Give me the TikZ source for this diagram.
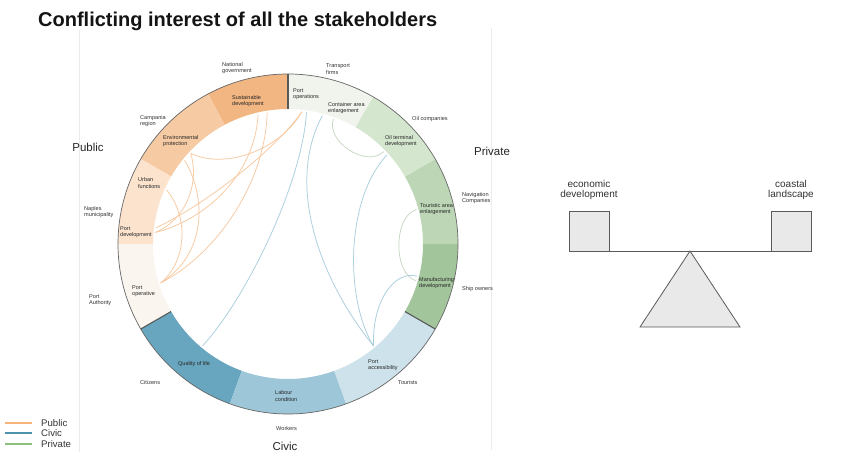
\documentclass[tikz,border=0pt]{standalone}
\usepackage{fontspec}
\setmainfont{Liberation Sans}
\usetikzlibrary{calc}
\definecolor{cNG}{HTML}{F2B682}
\definecolor{cCR}{HTML}{F6CAA2}
\definecolor{cNM}{HTML}{FBE3CE}
\definecolor{cPA}{HTML}{FAF5EE}
\definecolor{cCI}{HTML}{68A5BE}
\definecolor{cWO}{HTML}{9DC7D8}
\definecolor{cTO}{HTML}{CDE2EA}
\definecolor{cSO}{HTML}{A3C59B}
\definecolor{cNC}{HTML}{BCD6B6}
\definecolor{cOC}{HTML}{D5E6CF}
\definecolor{cTF}{HTML}{F0F4ED}
\definecolor{pubch}{HTML}{F7C9A0}
\definecolor{civch}{HTML}{A9CEDC}
\definecolor{prich}{HTML}{C8D8C4}
\definecolor{legpub}{HTML}{F6B37B}
\definecolor{legciv}{HTML}{4E93AE}
\definecolor{legpri}{HTML}{8DC07E}
\definecolor{sawfill}{HTML}{E9E9E9}
\definecolor{sawline}{HTML}{5A5A5A}
\newcommand\ringseg[3]{\fill[#3] (-#1:170) arc[start angle=-#1, end angle=-#2, radius=170] -- (-#2:135) arc[start angle=-#2, end angle=-#1, radius=135] -- cycle;}
\newcommand\chordline[4]{\draw[#4] (#1) .. controls ($(c)!#3!(#1)$) and ($(c)!#3!(#2)$) .. (#2);}
\begin{document}
\begin{tikzpicture}[x=1pt,y=-1pt,
  topic/.style={font=\fontsize{5.5}{6.3}\selectfont, inner sep=0pt, align=left, anchor=west, text=black!85},
  stake/.style={font=\fontsize{5.6}{6.5}\selectfont, inner sep=0pt, align=left, anchor=west, text=black!80},
  grouplabel/.style={font=\fontsize{11.5}{13}\selectfont, inner sep=0pt, text=black!85},
  pubchord/.style={draw=pubch, line width=0.75pt},
  civchord/.style={draw=civch, line width=0.75pt},
  prichord/.style={draw=prich, line width=0.75pt},
  divider/.style={draw=black!65, line width=1.1pt},
  vline/.style={draw=black!8, line width=0.8pt},
  sawbox/.style={draw=sawline, fill=sawfill, line width=0.8pt, minimum width=40pt, minimum height=40pt, inner sep=0pt},
  sawtext/.style={font=\fontsize{10}{10.8}\selectfont, align=center, inner sep=0pt, text=black!80},
  legline/.style={line width=2.4pt},
  legtext/.style={font=\fontsize{9.6}{10}\selectfont, anchor=west, inner sep=0pt, text=black!80}
]
\useasboundingbox[fill=white] (0,0) rectangle (851,455);

% faint separators
\draw[vline] (79,30) -- (79,452);
\draw[vline] (491,28) -- (491,450);

% title
\node[font=\bfseries\fontsize{20}{24}\selectfont, anchor=base west, inner sep=0pt, text=black!92] (title) at (38,27) {Conflicting interest of all the stakeholders};

% ring
\begin{scope}[shift={(288,244)}]
  \coordinate (c) at (0,0);
  \ringseg{90}{118}{cNG}
  \ringseg{118}{150}{cCR}
  \ringseg{150}{180}{cNM}
  \ringseg{180}{210}{cPA}
  \ringseg{210}{250}{cCI}
  \ringseg{250}{290}{cWO}
  \ringseg{290}{330}{cTO}
  \ringseg{330}{360}{cSO}
  \ringseg{0}{30}{cNC}
  \ringseg{30}{60}{cOC}
  \ringseg{60}{90}{cTF}
  \draw[black!60, line width=0.7pt] (0,0) circle[radius=170];
  \draw[divider] (-90:135) -- (-90:170);
  \draw[divider] (-210:135) -- (-210:170);
  \draw[divider] (-330:135) -- (-330:170);

  % chord end points
  \coordinate (popsA) at (-82:133);
  \coordinate (popsB) at (-75:133);
  \coordinate (popsC) at (-84:133);
  \coordinate (sdA) at (-103:133);
  \coordinate (sdB) at (-99:133);
  \coordinate (epA) at (-137:133);
  \coordinate (epB) at (-141:133);
  \coordinate (uf) at (-156:133);
  \coordinate (pdA) at (-175:133);
  \coordinate (pdB) at (-173:133);
  \coordinate (pop) at (-197:133);
  \coordinate (qol) at (-230:133);
  \coordinate (pacc) at (-310:133);
  \coordinate (mfgA) at (-346:133);
  \coordinate (mfgB) at (-344:133);
  \coordinate (tour) at (-15:133);
  \coordinate (oilA) at (-42:133);
  \coordinate (oilB) at (-44:133);
  \coordinate (cont) at (-70:133);

  % private chords
  \chordline{cont}{oilB}{0.82}{prichord}
  \chordline{tour}{mfgB}{0.82}{prichord}
\end{scope}

% public chords
\draw[pubchord] (epA) .. controls (225,170) and (280,150) .. (popsC);
\draw[pubchord] (sdA) .. controls (255,175) and (205,220) .. (pdA);
\draw[pubchord] (sdB) .. controls (265,185) and (215,255) .. (pop);
\draw[pubchord] (epB) .. controls (208,200) and (205,255) .. (pop);
\draw[pubchord] (uf) .. controls (188,215) and (188,260) .. (pop);
\draw[pubchord] (pdB) .. controls (205,205) and (275,150) .. (popsC);
\draw[pubchord] (epA) .. controls (200,185) and (185,220) .. (pdA);
% civic chords
\draw[civchord] (qol) .. controls (245,300) and (302,185) .. (popsA);
\draw[civchord] (pacc) .. controls (320,280) and (285,185) .. (popsB);
\draw[civchord] (pacc) .. controls (345,300) and (345,200) .. (oilA);
\draw[civchord] (pacc) .. controls (372,300) and (395,270) .. (mfgA);

% topics inside the ring
\node[topic] (t1) at (293,94) {Port\\operations};
\node[topic] (t2) at (232,101) {Sustainable\\development};
\node[topic] (t3) at (163,141) {Environmental\\protection};
\node[topic] (t4) at (138,183) {Urban\\functions};
\node[topic] (t5) at (120,232) {Port\\development};
\node[topic] (t6) at (132,291) {Port\\operative};
\node[topic] (t7) at (178,364) {Quality of life};
\node[topic] (t8) at (275,396) {Labour\\condition};
\node[topic] (t9) at (368,365) {Port\\accessibility};
\node[topic] (t10) at (419,283) {Manufacturing\\development};
\node[topic] (t11) at (420,209) {Touristic area\\enlargement};
\node[topic] (t12) at (385,141) {Oil terminal\\development};
\node[topic] (t13) at (328,108) {Container area\\enlargement};

% stakeholders
\node[stake] (s1) at (222,68) {National\\government};
\node[stake] (s2) at (326,69) {Transport\\firms};
\node[stake] (s3) at (140,121) {Campania\\region};
\node[stake] (s4) at (412,119) {Oil companies};
\node[stake] (s5) at (84,212) {Naples\\municipality};
\node[stake] (s6) at (462,198) {Navigation\\Companies};
\node[stake] (s7) at (89,300) {Port\\Authority};
\node[stake] (s8) at (462,289) {Ship owners};
\node[stake] (s9) at (140,382) {Citizens};
\node[stake] (s10) at (276,428) {Workers};
\node[stake] (s11) at (398,382) {Tourists};

% groups
\node[grouplabel] (gpub) at (88,147) {Public};
\node[grouplabel] (gpri) at (492,151) {Private};
\node[grouplabel] (gciv) at (285,446) {Civic};

% legend
\coordinate (l1a) at (5,423); \coordinate (l1b) at (32,423);
\coordinate (l2a) at (5,433); \coordinate (l2b) at (32,433);
\coordinate (l3a) at (5,444); \coordinate (l3b) at (32,444);
\draw[legline, legpub] (l1a) -- (l1b);
\draw[legline, legciv] (l2a) -- (l2b);
\draw[legline, legpri] (l3a) -- (l3b);
\node[legtext] (lt1) at (41,423) {Public};
\node[legtext] (lt2) at (41,433) {Civic};
\node[legtext] (lt3) at (41,444) {Private};

% seesaw
\node[sawbox] (lbox) at (589,231) {};
\node[sawbox] (rbox) at (791,231) {};
\draw[sawline, line width=0.8pt] (lbox.south east) -- (rbox.south west);
\coordinate (apex) at (690,251);
\coordinate (bl) at (640,327);
\coordinate (br) at (740,327);
\draw[sawline, fill=sawfill, line width=0.8pt] (apex) -- (br) -- (bl) -- cycle;
\node[sawtext] (ltext) at (589,190) {economic\\development};
\node[sawtext] (rtext) at (791,190) {coastal\\landscape};
\end{tikzpicture}
\end{document}
